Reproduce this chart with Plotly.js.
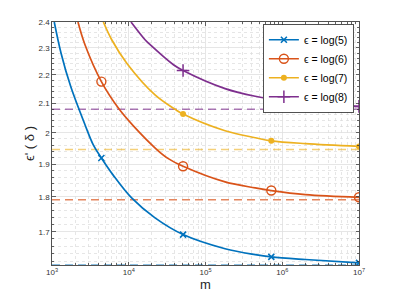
<!DOCTYPE html>
<html>
<head>
<meta charset="utf-8">
<script src="https://cdn.plot.ly/plotly-3.0.1.min.js"></script>
<style>html,body{margin:0;padding:0;background:#fff;}#chart{width:397px;height:298px;}</style>
</head>
<body>
<div id="chart"></div>
<script>
// ---- data ----
const seriesNames = ['\u03f5 = log(5)', '\u03f5 = log(6)', '\u03f5 = log(7)', '\u03f5 = log(8)'];
const limits = [1.6094, 1.7918, 1.9459, 2.0794];

const mBlue = [1070, 1310, 1750, 2690, 3450, 4400, 6300, 10900, 22000, 51000, 180000, 444000, 720000, 2000000, 10000000];
const yBlue = [2.400, 2.281, 2.159, 2.027, 1.961, 1.919, 1.865, 1.797, 1.739, 1.692, 1.653, 1.637, 1.631, 1.624, 1.615];
const mkBlue = [5, 9, 12, 14];

const mRed = [2180, 2690, 4400, 7530, 11400, 23200, 32800, 51000, 180000, 444000, 720000, 2000000, 10000000];
const yRed = [2.400, 2.312, 2.176, 2.079, 2.024, 1.946, 1.917, 1.893, 1.845, 1.827, 1.819, 1.807, 1.799];
const mkRed = [2, 7, 10, 12];

const mYellow = [4670, 6000, 9420, 22000, 40200, 51000, 180000, 444000, 720000, 2000000, 10000000];
const yYellow = [2.400, 2.331, 2.243, 2.129, 2.079, 2.063, 2.007, 1.984, 1.974, 1.965, 1.956];
const mkYellow = [5, 8, 10];

const mPurple = [10700, 16300, 19000, 38200, 51000, 180000, 444000, 720000, 2000000, 10000000];
const yPurple = [2.400, 2.331, 2.312, 2.237, 2.216, 2.151, 2.124, 2.115, 2.102, 2.089];
const mkPurple = [4, 7, 9];

const xTickVals = [1e3, 1e4, 1e5, 1e6, 1e7];
const xTickText = ['10<sup>3</sup>', '10<sup>4</sup>', '10<sup>5</sup>', '10<sup>6</sup>', '10<sup>7</sup>'];
const yTickVals = [1.7, 1.8, 1.9, 2.0, 2.1, 2.2, 2.3, 2.4];
const yTickText = ['1.7', '1.8', '1.9', '2', '2.1', '2.2', '2.3', '2.4'];
const xRange = [1e3, 1e7];
const yRange = [1.6094, 2.4];

// ---- styling ----
const colors = ['#0072BD', '#D95319', '#EDB120', '#7E2F8E'];
const dashColors = ['rgba(0,114,189,0.6)', 'rgba(217,83,25,0.7)', 'rgba(237,177,32,0.6)', 'rgba(126,47,142,0.65)'];
const markers = [
  {symbol: 'x-thin-open', size: 6, line: {width: 1.6}},
  {symbol: 'circle-open', size: 9, line: {width: 1.4}},
  {symbol: 'circle', size: 6, line: {width: 0}},
  {symbol: 'cross-thin-open', size: 9, line: {width: 1.5}}
];
const series = [[mBlue, yBlue, mkBlue], [mRed, yRed, mkRed], [mYellow, yYellow, mkYellow], [mPurple, yPurple, mkPurple]];

const traces = [];
limits.forEach((v, i) => {
  traces.push({x: xRange, y: [v, v], mode: 'lines', showlegend: false, hoverinfo: 'skip',
    line: {color: dashColors[i], width: 1.5, dash: '8px,5px'}});
});
series.forEach((s, i) => {
  const [mx, vy, mk] = s;
  traces.push({x: mx, y: vy, mode: 'lines', showlegend: false,
    line: {color: colors[i], width: 1.7, shape: 'spline', smoothing: 1}});
  const mk2 = Object.assign({}, markers[i], {color: colors[i], line: Object.assign({}, markers[i].line, {color: colors[i]})});
  traces.push({x: mk.map(k => mx[k]), y: mk.map(k => vy[k]), mode: 'markers', showlegend: false, marker: mk2});
  traces.push({x: [null], y: [null], mode: 'lines+markers', name: seriesNames[i], showlegend: true,
    line: {color: colors[i], width: 1.7}, marker: mk2});
});

function minorVals(lo, hi, step, skip) {
  const out = [];
  for (let v = lo; v <= hi + 1e-9; v += step) {
    const r = Math.round(v * 1000) / 1000;
    if (!skip(r)) out.push(r);
  }
  return out;
}
const xMinor = [];
[1e3, 1e4, 1e5, 1e6].forEach(d => { for (let k = 2; k <= 9; k++) xMinor.push(k * d); });
const yMinor = minorVals(1.62, 2.38, 0.02, r => Math.abs(r * 10 - Math.round(r * 10)) < 1e-6);

const axisCommon = {
  showline: true, linecolor: '#262626', linewidth: 0.8, mirror: 'ticks',
  ticks: 'inside', ticklen: 3.5, tickwidth: 0.7, tickcolor: '#262626',
  showgrid: true, gridcolor: '#e0e0e0', gridwidth: 0.8, zeroline: false,
  tickfont: {family: 'Liberation Sans, Arial, sans-serif', size: 8, color: '#333'}
};

const layout = {
  width: 397, height: 298,
  margin: {l: 52, r: 38, t: 22, b: 33, pad: 0},
  paper_bgcolor: '#fff', plot_bgcolor: '#fff',
  font: {family: 'Liberation Sans, Arial, sans-serif', color: '#262626'},
  xaxis: Object.assign({}, axisCommon, {
    type: 'log', range: [Math.log10(xRange[0]), Math.log10(xRange[1])],
    tickmode: 'array', tickvals: xTickVals, ticktext: xTickText,
    minor: {tickmode: 'array', tickvals: xMinor, ticks: 'inside', ticklen: 2, tickcolor: '#262626',
      showgrid: true, gridcolor: '#dcdcdc', griddash: 'dot', gridwidth: 0.7},
    title: {text: 'm', font: {size: 13, color: '#262626'}, standoff: 2}
  }),
  yaxis: Object.assign({}, axisCommon, {
    type: 'log', range: [Math.log10(yRange[0]), Math.log10(yRange[1])],
    tickmode: 'array', tickvals: yTickVals, ticktext: yTickText,
    minor: {tickmode: 'array', tickvals: yMinor, ticks: 'inside', ticklen: 2, tickcolor: '#262626',
      showgrid: true, gridcolor: '#dcdcdc', griddash: 'dot', gridwidth: 0.7},
    title: {text: "\u03f5' ( \u03b4 )", font: {size: 13, color: '#262626'}, standoff: 0}
  }),
  legend: {
    x: 0.984, xanchor: 'right', y: 0.99, yanchor: 'top',
    bgcolor: '#fff', bordercolor: '#262626', borderwidth: 0.8,
    font: {family: 'Liberation Sans, Arial, sans-serif', size: 10.5, color: '#000'},
    itemwidth: 30, tracegroupgap: 0
  },
  showlegend: true
};

Plotly.newPlot('chart', traces, layout, {staticPlot: true, displayModeBar: false});
</script>
</body>
</html>
